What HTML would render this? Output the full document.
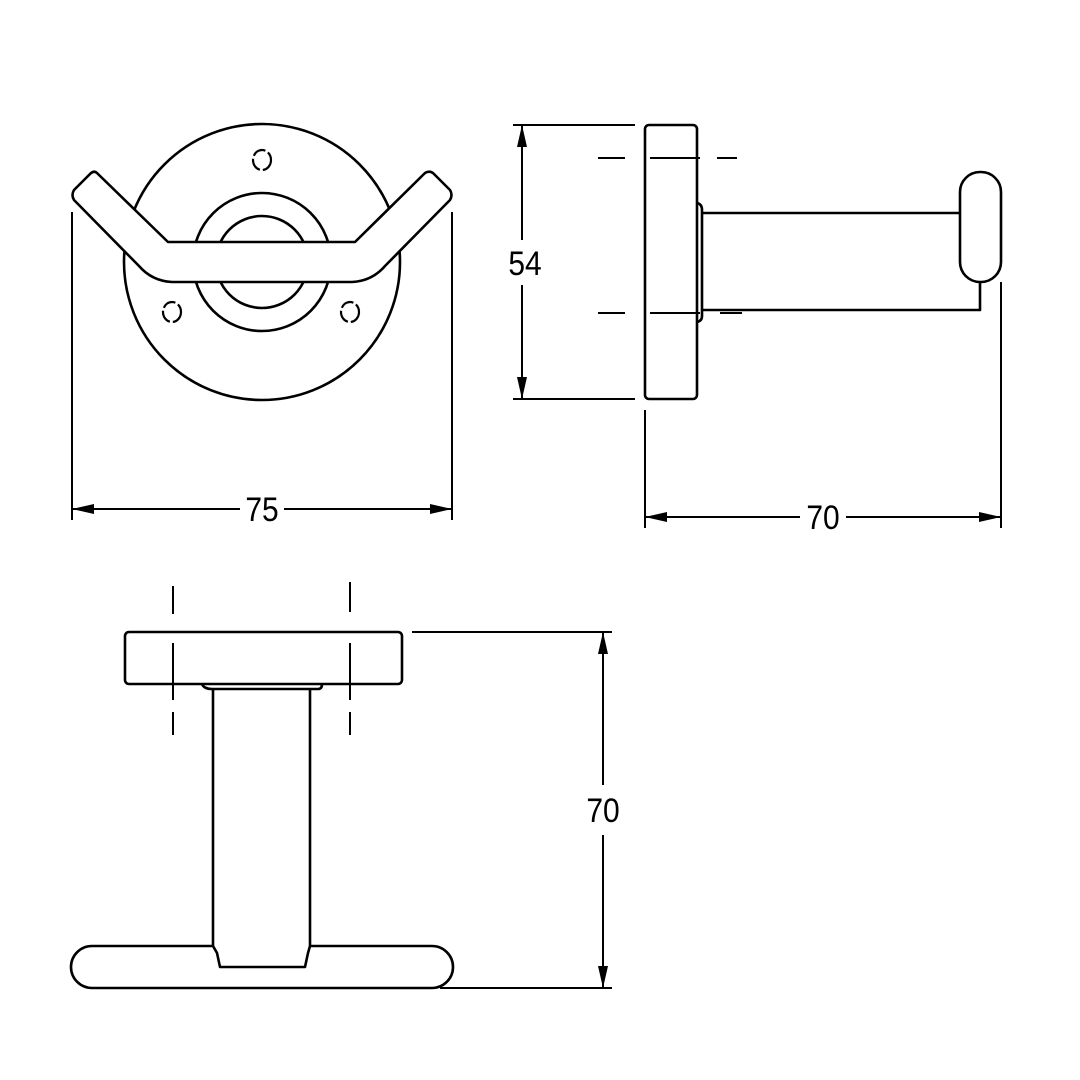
<!DOCTYPE html>
<html><head><style>body{margin:0;background:#fff}svg{display:block}</style></head><body>
<svg width="1080" height="1080" viewBox="0 0 1080 1080" xmlns="http://www.w3.org/2000/svg" fill="none" stroke="#000" stroke-width="2.6" stroke-linejoin="round">
<defs><marker id="a" viewBox="0 0 22 10" refX="22" refY="5" markerWidth="22" markerHeight="10" markerUnits="userSpaceOnUse" orient="auto-start-reverse"><path d="M0,0 L22,5 L0,10 Z" fill="#000" stroke="none"/></marker></defs>
<!-- front view -->
<circle cx="262" cy="262" r="138"/>
<circle cx="262" cy="262" r="69" fill="#fff"/>
<circle cx="262" cy="262" r="46"/>
<path d="M97,173 L168,242 L355,242 L425,173 Q430,170 434,174 L450,190 Q453,195 450,200 L385,266 Q372,281 352,282 L172,282 Q152,281 139,266 L74,200 Q71,195 74,190 L90,174 Q94,170 97,173 Z" fill="#fff"/>
<g stroke-width="2.2" stroke-dasharray="14 3">
<ellipse cx="262" cy="160" rx="9" ry="10"/><ellipse cx="172" cy="312" rx="9" ry="10"/><ellipse cx="350" cy="312" rx="9" ry="10"/></g>
<!-- dim 75 -->
<line x1="72" y1="212" x2="72" y2="520" stroke-width="2"/><line x1="452" y1="212" x2="452" y2="520" stroke-width="2"/>
<line x1="72" y1="509" x2="240" y2="509" stroke-width="2" marker-start="url(#a)"/>
<line x1="284" y1="509" x2="452" y2="509" stroke-width="2" marker-end="url(#a)"/>
<!-- side view -->
<rect x="645" y="125" width="52" height="274" rx="4"/>
<path d="M697,203 Q702,204 702,210 L702,316 Q702,321 697,322"/>
<path d="M702,213 L961,213 M702,310 L980,310 L980,282"/>
<rect x="960" y="172" width="41" height="110" rx="20" fill="#fff"/>
<g stroke-width="2"><path d="M598,158 H625 M650,158 H700 M717,158 H737 M598,313 H625 M650,313 H700 M720,313 H742"/></g>
<!-- dim 54 -->
<line x1="513" y1="125" x2="635" y2="125" stroke-width="2"/><line x1="513" y1="399" x2="635" y2="399" stroke-width="2"/>
<line x1="522" y1="240" x2="522" y2="125" stroke-width="2" marker-end="url(#a)"/>
<line x1="522" y1="285" x2="522" y2="399" stroke-width="2" marker-end="url(#a)"/>
<!-- dim 70 side -->
<line x1="645" y1="410" x2="645" y2="528" stroke-width="2"/><line x1="1001" y1="282" x2="1001" y2="528" stroke-width="2"/>
<line x1="800" y1="517" x2="645" y2="517" stroke-width="2" marker-end="url(#a)"/>
<line x1="846" y1="517" x2="1001" y2="517" stroke-width="2" marker-end="url(#a)"/>
<!-- bottom view -->
<rect x="125" y="632" width="277" height="52" rx="4"/>
<path d="M202,684 Q204,689 212,689 L318,689 Q322,689 322,684"/>
<path d="M213,689 L213,946 L217,953 L220,967 L305,967 L308,953 L310,946 L310,689"/>
<path d="M213,946 L92,946 A21,21 0 0 0 92,988 L432,988 A21,21 0 0 0 432,946 L310,946"/>
<g stroke-width="2"><path d="M173,586 V614 M173,643 V700 M173,712 V735 M350,582 V612 M350,643 V700 M350,712 V735"/></g>
<!-- dim 70 bottom -->
<line x1="412" y1="632" x2="612" y2="632" stroke-width="2"/><line x1="440" y1="988" x2="612" y2="988" stroke-width="2"/>
<line x1="603" y1="785" x2="603" y2="632" stroke-width="2" marker-end="url(#a)"/>
<line x1="603" y1="835" x2="603" y2="988" stroke-width="2" marker-end="url(#a)"/>
<g fill="#000" stroke="none" font-family="Liberation Sans, sans-serif" font-size="30" text-anchor="middle">
<text transform="translate(262,521) scale(1,1.15)">75</text>
<text transform="translate(525,275) scale(1,1.15)">54</text>
<text transform="translate(823,529) scale(1,1.15)">70</text>
<text transform="translate(603,822) scale(1,1.15)">70</text>
</g>
</svg>
</body></html>
